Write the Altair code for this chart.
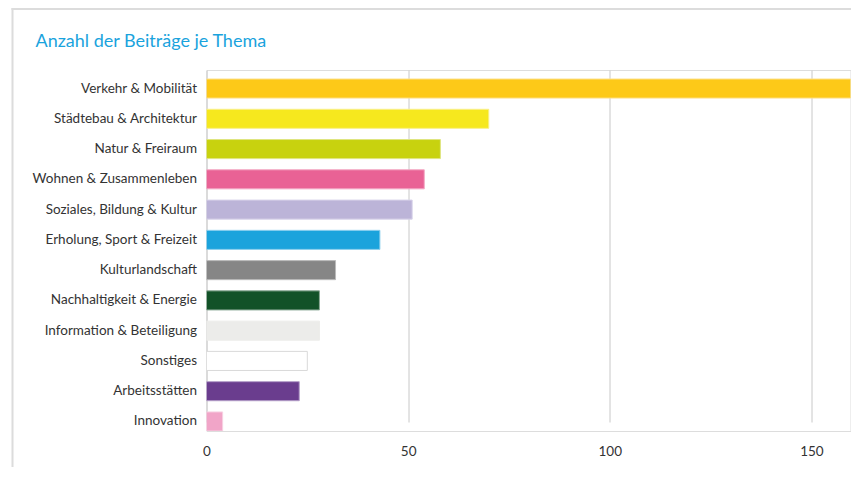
import altair as alt
import pandas as pd

themes = [
    "Verkehr & Mobilität",
    "Städtebau & Architektur",
    "Natur & Freiraum",
    "Wohnen & Zusammenleben",
    "Soziales, Bildung & Kultur",
    "Erholung, Sport & Freizeit",
    "Kulturlandschaft",
    "Nachhaltigkeit & Energie",
    "Information & Beteiligung",
    "Sonstiges",
    "Arbeitsstätten",
    "Innovation",
]
counts = [161, 70, 58, 54, 51, 43, 32, 28, 28, 25, 23, 4]
colors = [
    "#fdc918", "#f6e81e", "#c8d20f", "#e96295", "#bcb4d8", "#1ba3dc",
    "#868686", "#125228", "#ececea", "#ffffff", "#6a3d8e", "#f1a5c8",
]
strokes = [
    "#fde08a", "#f9f08a", "#dfe580", "#f3a8c4", "#d8d3ea", "#8ed0ee",
    "#bbbbbb", "#8aa894", "#ececea", "#d9d9d9", "#b49ec8", "#f7d0e2",
]
title_text = "Anzahl der Beiträge je Thema"
x_ticks = [0, 50, 100, 150]

df = pd.DataFrame({"thema": themes, "anzahl": counts, "farbe": colors, "rand": strokes})

W = 644
H = 361
FONT = "Lato"

bars = alt.Chart(df).mark_bar(strokeWidth=1, clip=True).encode(
    y=alt.Y("thema:N", sort=themes, title=None,
            scale=alt.Scale(paddingInner=0.37, paddingOuter=0, range=[9, H]),
            axis=alt.Axis(labelFont=FONT, labelFontSize=13.5, labelColor="#333333",
                          labelPadding=10, ticks=False, domain=False, grid=False)),
    x=alt.X("anzahl:Q", title=None,
            scale=alt.Scale(domain=[0, 159.7], nice=False),
            axis=alt.Axis(values=x_ticks, labelFont=FONT, labelFontSize=13.5,
                          labelColor="#333333", labelPadding=13, ticks=False,
                          domain=False, grid=True, gridColor="#c8c8c8",
                          gridWidth=1, labelFlush=False)),
    color=alt.Color("farbe:N", scale=None, legend=None),
    stroke=alt.Stroke("rand:N", scale=None, legend=None),
)

one = pd.DataFrame({"t": [title_text]})

title = alt.Chart(one).mark_text(
    align="left", baseline="alphabetic", font=FONT, fontSize=18, color="#1aa3dd"
).encode(x=alt.value(-171), y=alt.value(-23), text="t:N")

border_left = alt.Chart(one).mark_rule(color="#dcdcdc", strokeWidth=2).encode(
    x=alt.value(-194), y=alt.value(-62), y2=alt.value(H + 45)
)
border_top = alt.Chart(one).mark_rule(color="#dcdcdc", strokeWidth=2).encode(
    x=alt.value(-195), x2=alt.value(W + 10), y=alt.value(-61)
)

chart = alt.layer(border_left, border_top, bars, title).properties(
    width=W, height=H,
    autosize=alt.AutoSizeParams(type="none"),
    padding={"left": 198.5, "top": 62, "right": 0, "bottom": 36},
).configure_view(stroke=None).configure(background="white")

chart.save("out.html", embed_options={"renderer": "svg", "actions": False})
